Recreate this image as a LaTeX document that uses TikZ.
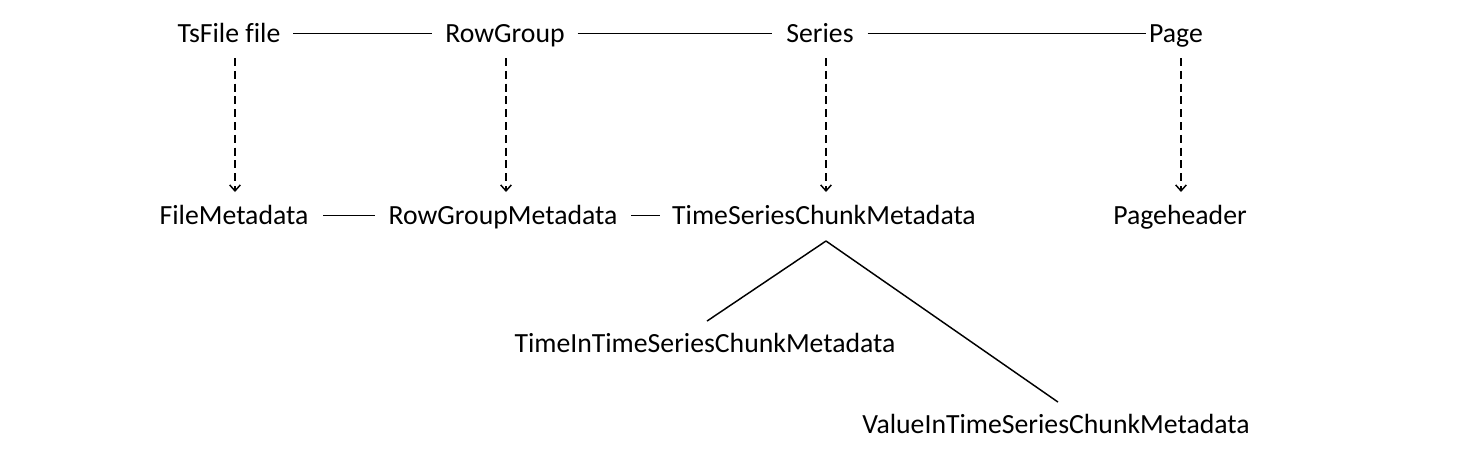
\documentclass[tikz,border=0pt]{standalone}
\usepackage{fontspec}
\setmainfont[Ligatures=CommonOff]{Carlito}
\usetikzlibrary{arrows.meta}
\begin{document}
\begin{tikzpicture}[x=0.75pt,y=-0.75pt,
  lbl/.style={anchor=base, inner sep=0pt, outer sep=0pt, text height=16.6pt, text depth=4.2pt, font=\fontsize{20.8pt}{24pt}\selectfont},
  link/.style={line width=1.1pt},
  dasharrow/.style={line width=1.1pt, dash pattern=on 6pt off 3.6pt, -{Straight Barb[length=4.5pt,width=8pt,line width=1.1pt]}}]
\useasboundingbox (0,0) rectangle (1467,458);
\node[lbl] (ts) at (229,42) {TsFile file};
\node[lbl] (rg) at (505,42) {RowGroup};
\node[lbl] (se) at (820,42) {Series};
\node[lbl] (pg) at (1176,42) {Page};
\node[lbl] (fm) at (234,224) {FileMetadata};
\node[lbl] (rgm) at (503,224) {RowGroupMetadata};
\node[lbl] (tsc) at (824,224) {TimeSeriesChunkMetadata};
\node[lbl] (ph) at (1180,224) {Pageheader};
\node[lbl] (tit) at (705,352) {TimeInTimeSeriesChunkMetadata};
\node[lbl] (vit) at (1056,433) {ValueInTimeSeriesChunkMetadata};
\coordinate (apex) at (826,241);
% horizontal links
\draw[link, shorten <=9.75pt, shorten >=9.75pt] (ts.east) -- (rg.west);
\draw[link, shorten <=9.75pt, shorten >=10.5pt] (rg.east) -- (se.west);
\draw[link, shorten <=10.5pt, shorten >=2.25pt] (se.east) -- (pg.west);
\draw[link, shorten <=11.25pt, shorten >=10.5pt] (fm.east) -- (rgm.west);
\draw[link, shorten <=10.5pt, shorten >=9pt] (rgm.east) -- (tsc.west);
% dashed arrows
\draw[dasharrow] ([xshift=4.5pt,yshift=-7.8pt]ts.south) -- ([xshift=0.75pt,yshift=7.4pt]fm.north);
\draw[dasharrow] ([xshift=0.75pt,yshift=-7.8pt]rg.south) -- ([xshift=2.25pt,yshift=7.4pt]rgm.north);
\draw[dasharrow] ([xshift=4.5pt,yshift=-7.8pt]se.south) -- ([xshift=1.5pt,yshift=7.4pt]tsc.north);
\draw[dasharrow] ([xshift=3.75pt,yshift=-7.8pt]pg.south) -- ([xshift=0.75pt,yshift=7.4pt]ph.north);
% tree links
\draw[link] (apex) -- ([xshift=1.5pt,yshift=6.6pt]tit.north);
\draw[link] (apex) -- ([xshift=1.5pt,yshift=6.6pt]vit.north);
\end{tikzpicture}
\end{document}
